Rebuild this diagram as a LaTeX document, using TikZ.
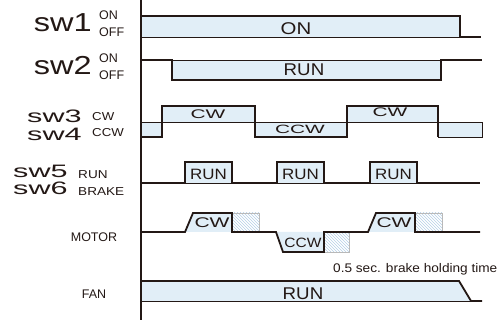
\documentclass[tikz,border=0pt]{standalone}
\usepackage{fontspec}
\setmainfont{Liberation Sans}
\usetikzlibrary{patterns}
\definecolor{lightblue}{HTML}{E1EEF7}
\definecolor{hatchblue}{HTML}{B4CFE6}
\definecolor{ink}{HTML}{231815}
\newcommand{\fsz}[1]{\fontsize{#1}{#1}\selectfont}

\begin{document}
\begin{tikzpicture}[x=1pt, y=-1pt, ink,
  sig/.style={line width=1.8pt, line join=miter},
  lvl/.style={fill=lightblue, draw=ink, line width=0.7pt},
  hatchbox/.style={pattern=north west lines, pattern color=hatchblue, draw=gray!55, line width=0.5pt},
  lab/.style={inner sep=0pt, text=ink}]
  \useasboundingbox (0,0) rectangle (500,320);

  % left labels
  \node[lab, anchor=base east, xscale=1.25] (sw1) at (92,32) {\fsz{26}sw1};
  \node[lab, anchor=base west] (on1)  at (99,20) {\fsz{12.5}ON};
  \node[lab, anchor=base west] (off1) at (99,37) {\fsz{12.5}OFF};
  \node[lab, anchor=base east, xscale=1.25] (sw2) at (92,75) {\fsz{26}sw2};
  \node[lab, anchor=base west] (on2)  at (99,63) {\fsz{12.5}ON};
  \node[lab, anchor=base west] (off2) at (99,80) {\fsz{12.5}OFF};
  \node[lab, anchor=base east, xscale=1.7] (sw3) at (82,123) {\fsz{18}sw3};
  \node[lab, anchor=base west, xscale=1.15] (cw)  at (92,121) {\fsz{11.5}CW};
  \node[lab, anchor=base east, xscale=1.7] (sw4) at (82,141) {\fsz{18}sw4};
  \node[lab, anchor=base west, xscale=1.15] (ccw) at (92,137) {\fsz{11.5}CCW};
  \node[lab, anchor=base east, xscale=1.7] (sw5) at (68,178) {\fsz{18}sw5};
  \node[lab, anchor=base west, xscale=1.18] (run) at (78,179) {\fsz{11.5}RUN};
  \node[lab, anchor=base east, xscale=1.7] (sw6) at (68,195) {\fsz{18}sw6};
  \node[lab, anchor=base west, xscale=1.18] (brake) at (78,196) {\fsz{11.5}BRAKE};
  \node[lab, anchor=base] (motor) at (94,241) {\fsz{12.5}MOTOR};
  \node[lab, anchor=base] (fan)   at (94,298) {\fsz{12.5}FAN};

  % sw1
  \draw[lvl] (141,16) rectangle (460,37);
  \draw[sig] (141,16) -- (460,16) -- (460,37) -- (481,37);
  \node[lab, xscale=1.2] (t1) at (296,29) {\fsz{17}ON};

  % sw2
  \draw[lvl] (172,60) rectangle (441,80);
  \draw[sig] (141,60) -- (172,60) -- (172,80) -- (441,80) -- (441,60) -- (482,60);
  \node[lab, xscale=1.1] (t2) at (304,70) {\fsz{17}RUN};

  % sw3 / sw4
  \draw[lvl] (141,122) rectangle (162,137);
  \draw[lvl] (162,106) rectangle (255,122);
  \draw[lvl] (255,122) rectangle (347,137);
  \draw[lvl] (347,106) rectangle (438,122);
  \draw[lvl] (438,122) rectangle (482,137);
  \draw[sig] (141,137) -- (162,137) -- (162,106) -- (255,106) -- (255,137)
    -- (347,137) -- (347,106) -- (438,106) -- (438,137);
  \node[lab, xscale=1.67] (t3) at (208,114) {\fsz{12.5}CW};
  \node[lab, xscale=1.74] (t4) at (300,129) {\fsz{12}CCW};
  \node[lab, xscale=1.67] (t5) at (390,112) {\fsz{12.5}CW};

  % sw5 / sw6
  \foreach \a/\b in {185/232, 277/324, 370/417}
    \draw[lvl] (\a,162) rectangle (\b,183);
  \draw[sig] (141,183) -- (185,183) -- (185,162) -- (232,162) -- (232,183)
    -- (277,183) -- (277,162) -- (324,162) -- (324,183)
    -- (370,183) -- (370,162) -- (417,162) -- (417,183) -- (480,183);
  \foreach \c [count=\i] in {208.5, 300.5, 393.5}
    \node[lab, xscale=1.13] (r\i) at (\c,174) {\fsz{15}RUN};

  % MOTOR
  \fill[lightblue] (185,232) -- (193,213) -- (232,213) -- (232,232) -- cycle;
  \fill[lightblue] (276,232) -- (283,252) -- (324,252) -- (324,232) -- cycle;
  \fill[lightblue] (368,232) -- (376,213) -- (415,213) -- (415,232) -- cycle;
  \draw[hatchbox] (232,213) rectangle (259,232);
  \draw[hatchbox] (324,232) rectangle (349,252);
  \draw[hatchbox] (415,213) rectangle (442,232);
  \draw[sig] (141,232) -- (185,232) -- (193,213) -- (232,213) -- (232,232)
    -- (276,232) -- (283,252) -- (324,252) -- (324,232)
    -- (368,232) -- (376,213) -- (415,213) -- (415,232) -- (480,232);
  \node[lab, xscale=1.5]  (m1) at (212,223) {\fsz{14}CW};
  \node[lab, xscale=1.15] (m2) at (303,243) {\fsz{13.5}CCW};
  \node[lab, xscale=1.5]  (m3) at (394,223) {\fsz{14}CW};
  \node[lab, anchor=base west, xscale=1.09] (hold) at (333,272) {\fsz{12.5}0.5 sec. brake holding time};

  % FAN
  \fill[lightblue] (141,281) -- (459,281) -- (471,301) -- (141,301) -- cycle;
  \draw[line width=0.7pt] (141,301) -- (471,301);
  \draw[sig] (141,281) -- (459,281) -- (471,301) -- (482,301);
  \node[lab, xscale=1.1] (t6) at (303,294) {\fsz{17}RUN};

  % axis
  \draw[line width=1.8pt] (141,0) -- (141,320);
\end{tikzpicture}
\end{document}
